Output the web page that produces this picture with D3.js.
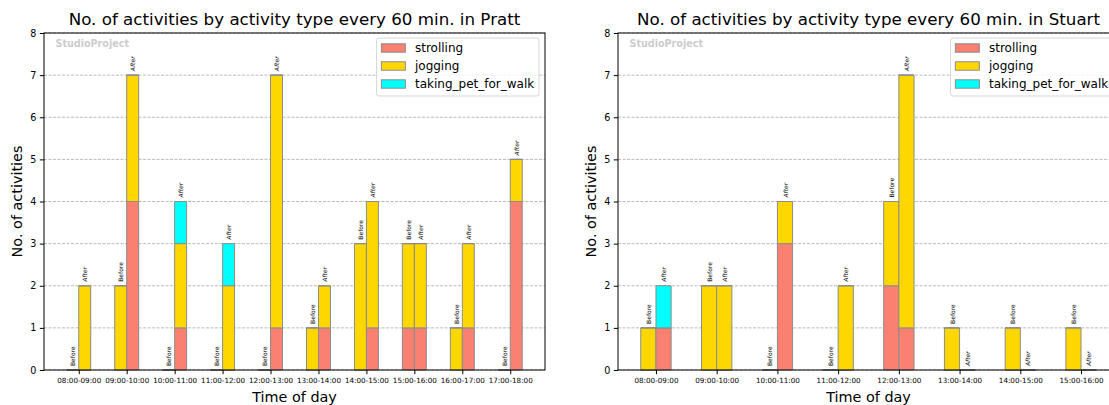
<!DOCTYPE html>
<html>
<head>
<meta charset="utf-8">
<script src="https://cdn.jsdelivr.net/npm/d3@7"></script>
<style>
  body { margin: 0; background: #fff; }
  svg { display: block; font-family: "DejaVu Sans", sans-serif; }
</style>
</head>
<body>
<svg id="chart" width="1109" height="405"></svg>
<script>
// Activity types, stacked bottom to top
const activityTypes = ["strolling", "jogging", "taking_pet_for_walk"];
const activityColors = ["#FA8072", "#FFD700", "#00FFFF"];
const periodLabels = ["Before", "After"];
const yTicks = [0, 1, 2, 3, 4, 5, 6, 7, 8];

// Pratt: hourly slots
const prattSlots = ["08:00-09:00", "09:00-10:00", "10:00-11:00", "11:00-12:00", "12:00-13:00",
                    "13:00-14:00", "14:00-15:00", "15:00-16:00", "16:00-17:00", "17:00-18:00"];
const prattBeforeStrolling = [0, 0, 0, 0, 0, 0, 0, 1, 0, 0];
const prattBeforeJogging   = [0, 2, 0, 0, 0, 1, 3, 2, 1, 0];
const prattBeforePet       = [0, 0, 0, 0, 0, 0, 0, 0, 0, 0];
const prattAfterStrolling  = [0, 4, 1, 0, 1, 1, 1, 1, 1, 4];
const prattAfterJogging    = [2, 3, 2, 2, 6, 1, 3, 2, 2, 1];
const prattAfterPet        = [0, 0, 1, 1, 0, 0, 0, 0, 0, 0];

// Stuart: hourly slots
const stuartSlots = ["08:00-09:00", "09:00-10:00", "10:00-11:00", "11:00-12:00",
                     "12:00-13:00", "13:00-14:00", "14:00-15:00", "15:00-16:00"];
const stuartBeforeStrolling = [0, 0, 0, 0, 2, 0, 0, 0];
const stuartBeforeJogging   = [1, 2, 0, 0, 2, 1, 1, 1];
const stuartBeforePet       = [0, 0, 0, 0, 0, 0, 0, 0];
const stuartAfterStrolling  = [1, 0, 3, 0, 1, 0, 0, 0];
const stuartAfterJogging    = [0, 2, 1, 2, 6, 0, 0, 0];
const stuartAfterPet        = [1, 0, 0, 0, 0, 0, 0, 0];

const svg = d3.select("#chart");
const FONT = '"DejaVu Sans", sans-serif';

function drawPanel(opts) {
  const { left, top, width, height, title, slots, before, after } = opts;
  const g = svg.append("g").attr("transform", `translate(${left},${top})`);
  const n = slots.length;
  const barW = 0.25;
  const lo = -barW, hi = n - 1 + barW, pad = (hi - lo) * 0.05;
  const x = d3.scaleLinear().domain([lo - pad, hi + pad]).range([0, width]);
  const y = d3.scaleLinear().domain([yTicks[0], yTicks[yTicks.length - 1]]).range([height, 0]);

  // horizontal dashed grid
  g.append("g").selectAll("line").data(yTicks).join("line")
    .attr("x1", 0).attr("x2", width)
    .attr("y1", d => y(d)).attr("y2", d => y(d))
    .attr("stroke", "#a8a8a8").attr("stroke-width", 0.8)
    .attr("stroke-dasharray", "3,1.5");

  // stacked bars: Before to the left of each tick, After to the right
  const groups = [
    { label: periodLabels[0], offset: -barW, values: before, italic: false },
    { label: periodLabels[1], offset: 0, values: after, italic: true }
  ];
  const bars = g.append("g");
  const labels = g.append("g");
  groups.forEach(grp => {
    for (let i = 0; i < n; i++) {
      let base = 0;
      const x0 = x(i + grp.offset), x1 = x(i + grp.offset + barW);
      activityTypes.forEach((t, k) => {
        const v = grp.values[k][i];
        const yb = y(base), yt = y(base + v);
        bars.append("path")
          .attr("d", `M${x0},${yb}H${x1}V${yt}H${x0}Z`)
          .attr("fill", activityColors[k])
          .attr("stroke", "#8c8c8c").attr("stroke-width", 1);
        base += v;
      });
      const cx = x(i + grp.offset + barW / 2);
      labels.append("text")
        .attr("transform", `translate(${cx},${y(base) - 4}) rotate(-90)`)
        .attr("text-anchor", "start")
        .attr("dominant-baseline", "central")
        .attr("font-size", 6)
        .attr("font-style", grp.italic ? "italic" : "normal")
        .attr("fill", "#000")
        .text(grp.label);
    }
  });

  // spines
  g.append("rect").attr("x", 0).attr("y", 0).attr("width", width).attr("height", height)
    .attr("fill", "none").attr("stroke", "#000").attr("stroke-width", 1);

  // axes
  const yAxis = g.append("g")
    .call(d3.axisLeft(y).tickValues(yTicks).tickFormat(d3.format("d")).tickSize(4.2).tickPadding(3.5));
  yAxis.select(".domain").remove();
  yAxis.selectAll("text").attr("font-size", 9.6).attr("font-family", FONT).attr("fill", "#000");

  const xAxis = g.append("g").attr("transform", `translate(0,${height})`)
    .call(d3.axisBottom(x).tickValues(d3.range(n)).tickFormat(i => slots[i]).tickSize(4.2).tickPadding(3.5));
  xAxis.select(".domain").remove();
  xAxis.selectAll("text").attr("font-size", 7.2).attr("font-family", FONT).attr("fill", "#000");

  // titles
  g.append("text").attr("x", width / 2).attr("y", -8)
    .attr("text-anchor", "middle").attr("font-size", 16.7).attr("fill", "#000").text(title);
  g.append("text").attr("x", width / 2).attr("y", height + 32)
    .attr("text-anchor", "middle").attr("font-size", 14.4).attr("fill", "#000").text("Time of day");
  g.append("text").attr("transform", `translate(-27,${height / 2}) rotate(-90)`)
    .attr("text-anchor", "middle").attr("dominant-baseline", "central")
    .attr("font-size", 14.4).attr("fill", "#000").text("No. of activities");

  // watermark
  g.append("text").attr("x", width * 0.023).attr("y", 14)
    .attr("font-size", 9.6).attr("font-weight", "bold").attr("fill", "#cccccc")
    .text("StudioProject");

  // legend, upper right
  const fs = 12, rowH = 18, handleW = 24, handleH = 8.4, padTop = 10, padBottom = 12;
  const leg = g.append("g");
  const box = leg.append("rect").attr("fill", "#fff").attr("fill-opacity", 0.8)
    .attr("stroke", "#d6d6d6").attr("stroke-width", 1).attr("rx", 2.5);
  const items = leg.selectAll("g").data(activityTypes).join("g")
    .attr("transform", (d, i) => `translate(0,${i * rowH})`);
  items.append("rect").attr("x", 4.8).attr("y", -handleH / 2).attr("width", handleW).attr("height", handleH)
    .attr("fill", (d, i) => activityColors[i]).attr("stroke", "#8c8c8c").attr("stroke-width", 1);
  const txt = items.append("text").attr("x", 4.8 + handleW + 9.6).attr("dominant-baseline", "central")
    .attr("font-size", fs).attr("fill", "#000").text(d => d);
  let tw = 0;
  txt.each(function () { tw = Math.max(tw, this.getComputedTextLength()); });
  const legW = 4.8 + handleW + 9.6 + tw + 4.8;
  const legH = rowH * (activityTypes.length - 1) + padTop + padBottom;
  box.attr("x", 0).attr("y", -padTop).attr("width", legW).attr("height", legH);
  leg.attr("transform", `translate(${width - 6 - legW},${5 + padTop})`);
}

drawPanel({
  left: 44, top: 33, width: 501, height: 337,
  title: "No. of activities by activity type every 60 min. in Pratt",
  slots: prattSlots,
  before: [prattBeforeStrolling, prattBeforeJogging, prattBeforePet],
  after: [prattAfterStrolling, prattAfterJogging, prattAfterPet]
});

drawPanel({
  left: 618, top: 33, width: 501, height: 337,
  title: "No. of activities by activity type every 60 min. in Stuart",
  slots: stuartSlots,
  before: [stuartBeforeStrolling, stuartBeforeJogging, stuartBeforePet],
  after: [stuartAfterStrolling, stuartAfterJogging, stuartAfterPet]
});
</script>
</body>
</html>
